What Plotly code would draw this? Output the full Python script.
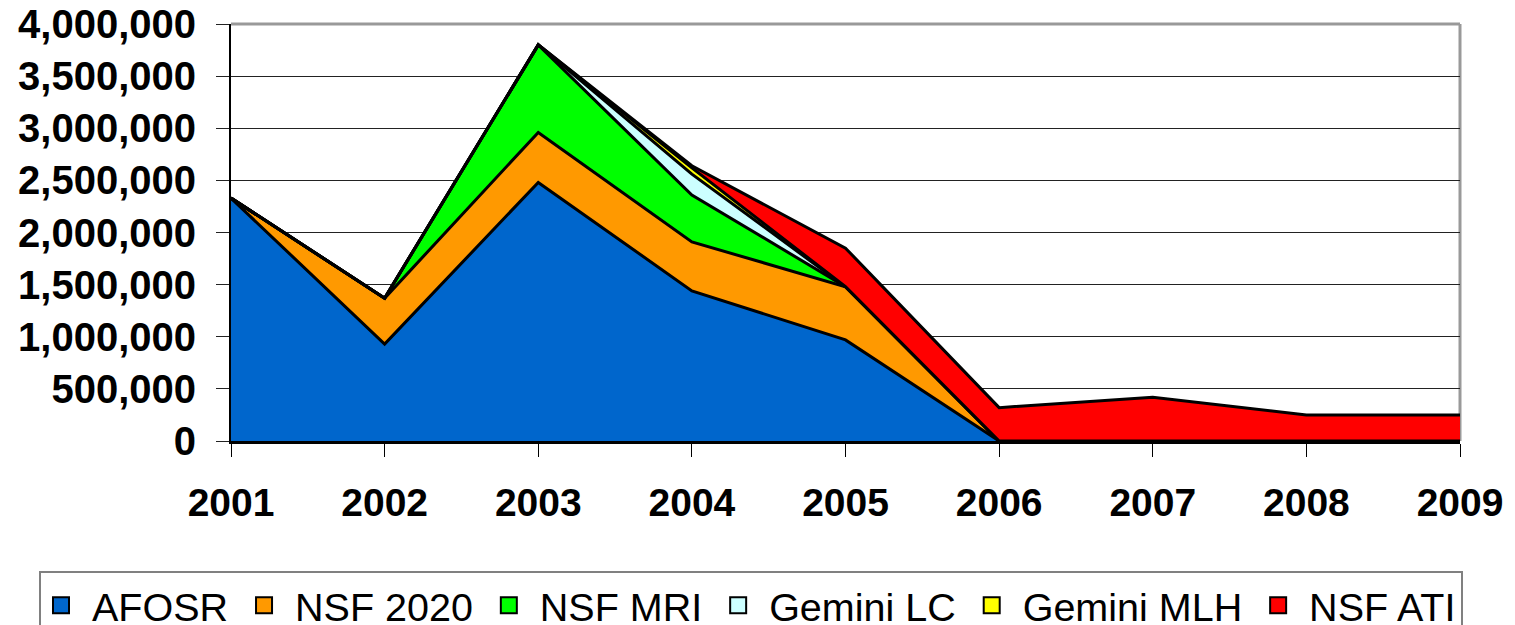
import plotly.graph_objects as go

years = [2001, 2002, 2003, 2004, 2005, 2006, 2007, 2008, 2009]
series_names = ["AFOSR", "NSF 2020", "NSF MRI", "Gemini LC", "Gemini MLH", "NSF ATI"]
afosr = [2330000, 930000, 2480000, 1440000, 970000, 0, 0, 0, 0]
nsf_2020 = [0, 440000, 480000, 470000, 510000, 0, 0, 0, 0]
nsf_mri = [0, 0, 840000, 450000, 0, 0, 0, 0, 0]
gemini_lc = [0, 0, 0, 200000, 0, 0, 0, 0, 0]
gemini_mlh = [0, 0, 0, 60000, 0, 0, 0, 0, 0]
nsf_ati = [0, 0, 0, 20000, 370000, 320000, 420000, 250000, 250000]
colors = ["#0066CC", "#FF9900", "#00FF00", "#CCFFFF", "#FFFF00", "#FF0000"]
y_ticks = [0, 500000, 1000000, 1500000, 2000000, 2500000, 3000000, 3500000, 4000000]

values = [afosr, nsf_2020, nsf_mri, gemini_lc, gemini_mlh, nsf_ati]
FONT = "Liberation Sans, Arial, sans-serif"

fig = go.Figure()
for name, vals, col in zip(series_names, values, colors):
    fig.add_trace(go.Scatter(
        x=years, y=vals, name=name, stackgroup="one", mode="lines",
        line=dict(color="black", width=3), fillcolor=col,
        showlegend=False, hoverinfo="x+y+name"))
for i, (name, col) in enumerate(zip(series_names, colors)):
    label = "\u00a0" + name + ("\u00a0" if i < len(series_names) - 1 else "")
    fig.add_trace(go.Scatter(
        x=[None], y=[None], mode="markers", name=label,
        marker=dict(symbol="square", size=16, color=col,
                    line=dict(color="black", width=2)),
        showlegend=True))

# page body adds an 8px offset; compensate
OFF = 8
W, H = 1515 - OFF, 625 - OFF
L, R, T, B = 231 - OFF, 55, 24 - OFF, 184
pw, ph = W - L - R, H - T - B
plot_bottom = H - B + OFF  # screen y of plot bottom

fig.update_layout(
    width=W, height=H,
    margin=dict(l=L, r=R, t=T, b=B, autoexpand=False),
    paper_bgcolor="white", plot_bgcolor="white",
    font=dict(family=FONT, color="black"),
    showlegend=True,
    legend=dict(orientation="h", traceorder="normal",
                xref="paper", yref="paper",
                x=(39 - 231) / pw, xanchor="left",
                y=-(571 - plot_bottom) / ph, yanchor="top",
                font=dict(family=FONT, size=39.5, color="black"),
                bordercolor="#808080", borderwidth=2, bgcolor="white"),
    xaxis=dict(range=[2001, 2009], tickvals=years, ticktext=[str(y) for y in years],
               showgrid=False, zeroline=False, automargin=False,
               showline=True, linecolor="black", linewidth=3,
               ticks="outside", ticklen=13, tickcolor="black", tickwidth=1,
               ticklabelstandoff=12, ticklabeloverflow="allow",
               tickfont=dict(family=FONT, size=39, color="black", weight="bold")),
    yaxis=dict(range=[0, 4000000], tickvals=y_ticks,
               ticktext=[f"{v:,}" for v in y_ticks],
               showgrid=True, gridcolor="#222222", gridwidth=1, zeroline=False,
               automargin=False,
               showline=True, linecolor="black", linewidth=2,
               ticks="outside", ticklen=13, tickcolor="#222222", tickwidth=1,
               ticklabelstandoff=12, ticklabeloverflow="allow",
               tickfont=dict(family=FONT, size=40, color="black", weight="bold")),
    shapes=[
        dict(type="line", xref="paper", yref="paper", x0=0, x1=1, y0=1, y1=1,
             line=dict(color="#999999", width=3), layer="above"),
        dict(type="line", xref="paper", yref="paper", x0=1, x1=1, y0=0, y1=1,
             line=dict(color="#999999", width=3), layer="below"),
    ],
)

fig.write_html("out.html")
